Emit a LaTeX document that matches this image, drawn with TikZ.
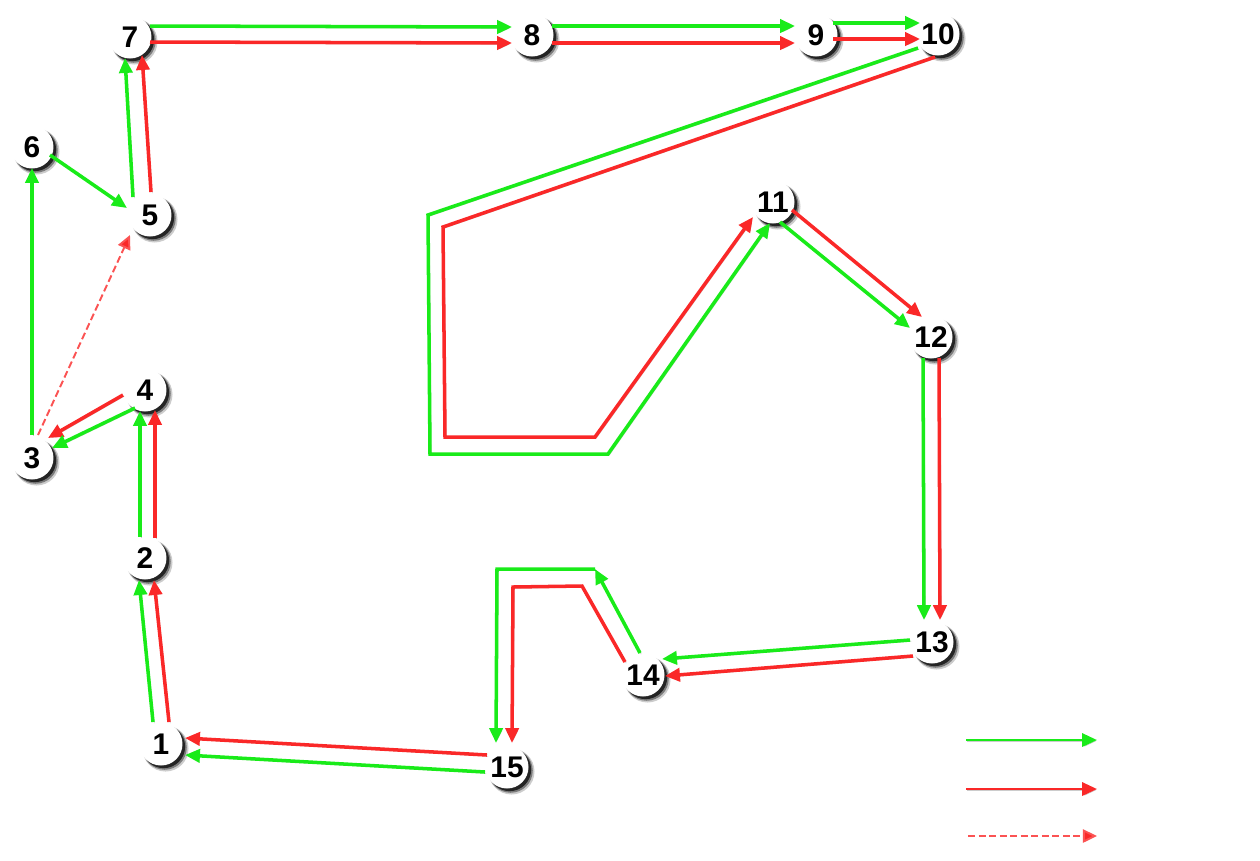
\documentclass[tikz,border=0pt]{standalone}
\usepackage{fontspec}
\newfontfamily\numfont{Liberation Sans}
\usetikzlibrary{arrows.meta,shadows,calc}
\definecolor{vert}{RGB}{25,235,25}
\definecolor{rouge}{RGB}{250,40,40}

\begin{document}
\begin{tikzpicture}[x=0.02cm, y=-0.02cm]
\tikzstyle{etat} = [circle, fill=white, minimum size=0.86cm, inner sep=0pt, outer sep=0pt,
  font=\numfont\bfseries\fontsize{17}{17}\selectfont,
  drop shadow={shadow xshift=2.4pt, shadow yshift=-2.4pt, shadow scale=1.07, fill=black, opacity=0.2},
  drop shadow={shadow xshift=2pt, shadow yshift=-2pt, shadow scale=1.03, fill=black, opacity=0.4},
  drop shadow={shadow xshift=1.5pt, shadow yshift=-1.5pt, fill=black, opacity=0.7}];
\tikzstyle{trait} = [line width=2pt,
  preaction={draw=black, opacity=0.2, transform canvas={shift={(0.7pt,-0.7pt)}}}];
\tikzstyle{aller} = [trait, draw=vert, -{Triangle[length=8.5pt,width=7.5pt,fill=vert]}];
\tikzstyle{retour} = [trait, draw=rouge, -{Triangle[length=8.5pt,width=7.5pt,fill=rouge]}];
\tikzstyle{saut} = [line width=1.1pt, draw=rouge!80, dash pattern=on 4pt off 2pt,
  -{Triangle[length=8pt,width=7.5pt,fill=rouge]}];
\useasboundingbox (0,0) rectangle (1260,860);

\node[etat] (p1) at (161,744) {1};
\node[etat] (p2) at (145,558) {2};
\node[etat] (p3) at (32,458) {3};
\node[etat] (p4) at (145,390) {4};
\node[etat] (p5) at (150,215) {5};
\node[etat] (p6) at (32,147) {6};
\node[etat] (p7) at (130,37) {7};
\node[etat] (p8) at (532,35) {8};
\node[etat] (p9) at (816,35) {9};
\node[etat] (p10) at (938,34) {10};
\node[etat] (p11) at (773,202) {11};
\node[etat] (p12) at (931,337) {12};
\node[etat] (p13) at (932,642) {13};
\node[etat] (p14) at (643,675) {14};
\node[etat] (p15) at (507,767) {15};

% coins des chemins
\coordinate (g1) at (428,215);
\coordinate (g2) at (430,454);
\coordinate (g3) at (608,454);
\coordinate (r1) at (443,227);
\coordinate (r2) at (445,437);
\coordinate (r3) at (595,437);
\coordinate (g4) at (595,569);
\coordinate (g5) at (497,569);
\coordinate (r4) at (582,586);
\coordinate (r5) at (513,587);

\draw[aller] ($(p1)+(-8,-22)$) -- ($(p2)+(-6,22)$);
\draw[retour] ($(p1)+(8,-22)$) -- ($(p2)+(9,22)$);
\draw[aller] ($(p2)+(-5,-21)$) -- ($(p4)+(-5,21)$);
\draw[retour] ($(p2)+(10,-20)$) -- ($(p4)+(10,20)$);
\draw[retour] ($(p4)+(-22,5)$) -- ($(p3)+(16,-20)$);
\draw[aller] ($(p4)+(-10,18)$) -- ($(p3)+(20,-10)$);
\draw[aller] ($(p3)+(0,-23)$) -- ($(p6)+(0,21)$);
\draw[saut] ($(p3)+(6,-23)$) -- ($(p5)+(-20,20)$);
\draw[aller] ($(p6)+(18,8)$) -- ($(p5)+(-23,-7)$);
\draw[aller] ($(p5)+(-17,-18)$) -- ($(p7)+(-5,21)$);
\draw[retour] ($(p5)+(1,-23)$) -- ($(p7)+(12,18)$);
\draw[aller] ($(p7)+(20,-11)$) -- ($(p8)+(-20,-8)$);
\draw[retour] ($(p7)+(20,5)$) -- ($(p8)+(-20,8)$);
\draw[aller] ($(p8)+(20,-9)$) -- ($(p9)+(-21,-9)$);
\draw[retour] ($(p8)+(20,8)$) -- ($(p9)+(-21,8)$);
\draw[aller] ($(p9)+(17,-12)$) -- ($(p10)+(-18,-11)$);
\draw[retour] ($(p9)+(17,4)$) -- ($(p10)+(-18,5)$);
\draw[aller] ($(p10)+(-20,14)$) -- (g1) -- (g2) -- (g3) -- ($(p11)+(-3,21)$);
\draw[retour] ($(p10)+(-3,23)$) -- (r1) -- (r2) -- (r3) -- ($(p11)+(-20,15)$);
\draw[retour] ($(p11)+(19,8)$) -- ($(p12)+(-9,-20)$);
\draw[aller] ($(p11)+(7,20)$) -- ($(p12)+(-21,-9)$);
\draw[aller] ($(p12)+(-8,21)$) -- ($(p13)+(-8,-22)$);
\draw[retour] ($(p12)+(8,21)$) -- ($(p13)+(8,-22)$);
\draw[aller] ($(p13)+(-22,-2)$) -- ($(p14)+(19,-16)$);
\draw[retour] ($(p13)+(-19,14)$) -- ($(p14)+(22,1)$);
\draw[aller] ($(p14)+(-3,-22)$) -- (g4);
\draw[aller] (g4) -- (g5) -- ($(p15)+(-11,-24)$);
\draw[retour] ($(p14)+(-18,-13)$) -- (r4) -- (r5) -- ($(p15)+(5,-24)$);
\draw[retour] ($(p15)+(-20,-12)$) -- ($(p1)+(24,-6)$);
\draw[aller] ($(p15)+(-22,5)$) -- ($(p1)+(24,11)$);

% legende
\coordinate (la) at (966,740);
\coordinate (lb) at (1097,740);
\coordinate (lc) at (966,789);
\coordinate (ld) at (1097,789);
\coordinate (le) at (968,836);
\coordinate (lf) at (1097,836);
\draw[aller, line width=1.5pt] (la) -- (lb);
\draw[retour, line width=1.5pt] (lc) -- (ld);
\draw[saut] (le) -- (lf);
\end{tikzpicture}
\end{document}
